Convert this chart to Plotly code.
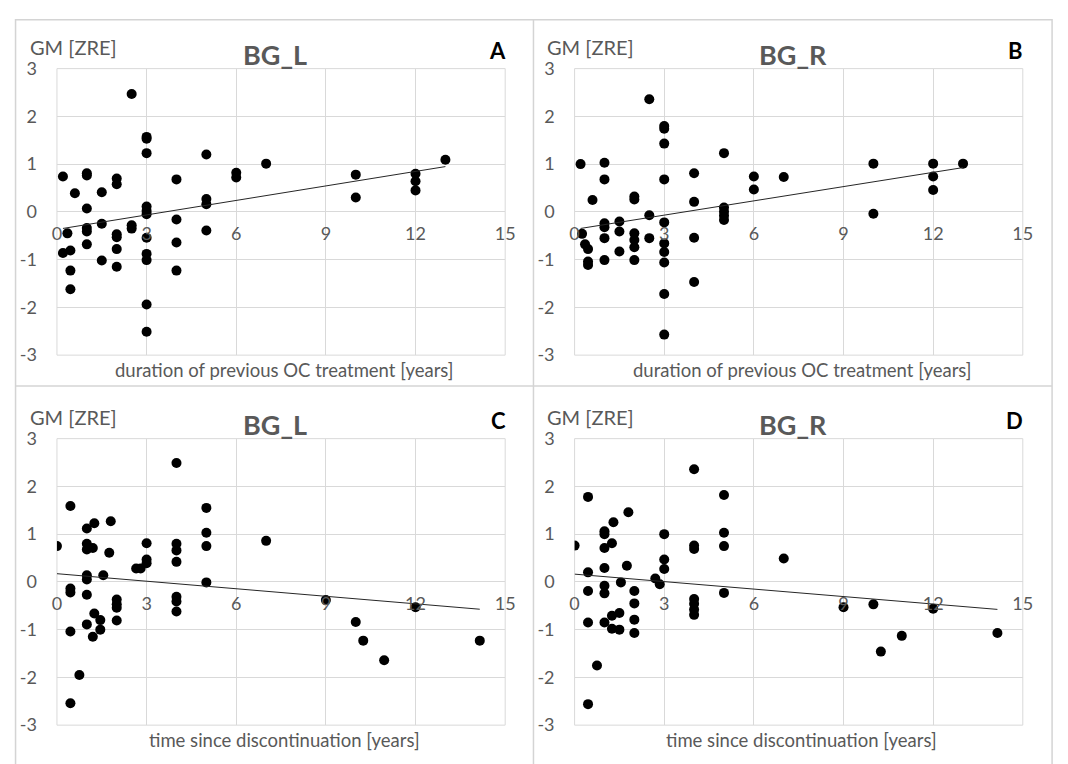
import numpy as np
import plotly.graph_objects as go

W, H = 1068, 764

# ---------------- data ----------------
# Panel A: BG_L vs duration of previous OC treatment
dur_A = [0.2, 0.2, 0.35, 0.45, 0.45, 0.45, 0.6, 1, 1, 1, 1, 1, 1, 1.5, 1.5, 1.5,
         2, 2, 2, 2, 2, 2, 2.5, 2.5, 2.5, 3, 3, 3, 3, 3, 3, 3, 3, 3, 3, 3,
         4, 4, 4, 4, 5, 5, 5, 5, 6, 6, 7, 10, 10, 12, 12, 12, 13]
gm_A = [0.74, -0.86, -0.45, -0.81, -1.23, -1.62, 0.39, 0.81, 0.76, 0.07, -0.34, -0.41, -0.68,
        0.41, -0.25, -1.02, 0.70, 0.58, -0.47, -0.53, -0.78, -1.15, 2.47, -0.28, -0.35,
        1.57, 1.53, 1.23, 0.11, 0.02, -0.05, -0.54, -0.88, -1.01, -1.94, -2.51,
        0.68, -0.16, -0.64, -1.23, 1.20, 0.27, 0.16, -0.39, 0.82, 0.72, 1.01,
        0.78, 0.30, 0.80, 0.64, 0.45, 1.09]

# Panel B: BG_R vs duration of previous OC treatment
dur_B = [0.2, 0.25, 0.35, 0.45, 0.45, 0.45, 0.6, 1, 1, 1, 1, 1, 1, 1.5, 1.5, 1.5,
         2, 2, 2, 2, 2, 2, 2.5, 2.5, 2.5, 3, 3, 3, 3, 3, 3, 3, 3, 3, 3,
         4, 4, 4, 4, 5, 5, 5, 5, 5, 6, 6, 7, 10, 10, 12, 12, 12, 13]
gm_B = [1.00, -0.46, -0.68, -0.78, -1.04, -1.11, 0.25, 1.03, 0.68, -0.24, -0.32, -0.55, -1.01,
        -0.20, -0.41, -0.83, 0.32, 0.26, -0.45, -0.59, -0.74, -1.01, 2.36, -0.07, -0.55,
        1.80, 1.74, 1.43, 0.68, -0.22, -0.66, -0.84, -1.06, -1.72, -2.57,
        0.81, 0.21, -0.54, -1.47, 1.23, 0.09, 0.00, -0.08, -0.17, 0.74, 0.47, 0.73,
        1.01, -0.04, 1.01, 0.74, 0.46, 1.01]

# Panel C: BG_L vs time since discontinuation
dis_C = [0, 0.45, 0.45, 0.45, 0.45, 0.45, 0.75, 1, 1, 1, 1.2, 1, 1, 1, 1, 1.25, 1.25,
         1.45, 1.45, 1.2, 1.55, 1.75, 1.8, 2, 2, 2, 2, 2.65, 2.8, 3, 3, 3,
         4, 4, 4, 4, 4, 4, 4, 5, 5, 5, 5, 7, 9, 10, 10.25, 10.95, 12, 14.15]
gm_C = [0.75, 1.59, -0.14, -0.22, -1.04, -2.54, -1.95, 1.12, 0.80, 0.68, 0.71, 0.14, 0.05, -0.27,
        -0.89, 1.23, -0.66, -0.80, -1.00, -1.15, 0.14, 0.61, 1.27, -0.37, -0.47, -0.54, -0.81,
        0.28, 0.28, 0.39, 0.47, 0.81, 2.49, 0.80, 0.66, 0.42, -0.31, -0.41, -0.62,
        1.55, 1.03, 0.75, -0.01, 0.86, -0.38, -0.84, -1.23, -1.64, -0.53, -1.23]

# Panel D: BG_R vs time since discontinuation
dis_D = [0, 0.45, 0.45, 0.45, 0.45, 0.45, 0.75, 1, 1, 1, 1.25, 1, 1, 1, 1, 1.3, 1.25,
         1.5, 1.25, 1.5, 1.55, 1.75, 1.8, 2, 2, 2, 2, 2.7, 2.85, 3, 3, 3,
         4, 4, 4, 4, 4, 4, 4, 5, 5, 5, 5, 7, 9, 10, 10.25, 10.95, 12, 14.15]
gm_D = [0.76, 1.78, 0.20, -0.19, -0.85, -2.56, -1.75, 1.06, 1.00, 0.71, 0.81, 0.29, -0.08, -0.24,
        -0.85, 1.25, -0.71, -0.65, -0.98, -1.00, -0.01, 0.34, 1.46, -0.19, -0.45, -0.79, -1.07,
        0.07, -0.05, 1.00, 0.47, 0.27, 2.36, 0.76, 0.69, -0.36, -0.46, -0.58, -0.69,
        1.82, 1.03, 0.75, -0.23, 0.49, -0.53, -0.47, -1.46, -1.13, -0.56, -1.07]

panel_titles = ["BG_L", "BG_R", "BG_L", "BG_R"]
panel_letters = ["A", "B", "C", "D"]
x_titles = ["duration of previous OC treatment [years]",
            "duration of previous OC treatment [years]",
            "time since discontinuation [years]",
            "time since discontinuation [years]"]
y_title = "GM [ZRE]"
x_ticks = [0, 3, 6, 9, 12, 15]
x_tick_labels = ["0", "3", "6", "9", "12", "15"]
y_ticks = [-3, -2, -1, 0, 1, 2, 3]
y_tick_labels = ["-3", "-2", "-1", "0", "1", "2", "3"]

# ---------------- figure ----------------
FONT = "Lato"
GRAY = "#595959"
GRID = "#d9d9d9"

xs_all = [dur_A, dur_B, dis_C, dis_D]
ys_all = [gm_A, gm_B, gm_C, gm_D]

fig = go.Figure()
layout = dict(
    width=W, height=H, margin=dict(l=0, r=0, t=0, b=0),
    paper_bgcolor="white", plot_bgcolor="white",
    font=dict(family=FONT, color=GRAY), showlegend=False,
)
shapes = []
annotations = []

for i in range(4):
    n = i + 1
    col, row = i % 2, i // 2
    ox, oy = col * 525, row * 381
    left, right = 52.7 + ox, 507.3 + ox
    top, bottom = 58.3 + oy, 353.3 + oy
    xd = [left / W, right / W]
    yd = [1 - bottom / H, 1 - top / H]
    xa = "x" if n == 1 else f"x{n}"
    ya = "y" if n == 1 else f"y{n}"
    xkey = "xaxis" if n == 1 else f"xaxis{n}"
    ykey = "yaxis" if n == 1 else f"yaxis{n}"

    x = np.array(xs_all[i], dtype=float)
    y = np.array(ys_all[i], dtype=float)
    fig.add_trace(go.Scatter(x=x, y=y, mode="markers", xaxis=xa, yaxis=ya,
                             marker=dict(color="black", size=10, line=dict(width=0)),
                             hoverinfo="skip"))
    slope, intercept = np.polyfit(x, y, 1)
    tx = np.array([x.min(), x.max()])
    fig.add_trace(go.Scatter(x=tx, y=slope * tx + intercept, mode="lines",
                             xaxis=xa, yaxis=ya,
                             line=dict(color="#262626", width=1), hoverinfo="skip"))

    layout[xkey] = dict(domain=xd, range=[0, 15], tickvals=x_ticks, ticktext=x_tick_labels,
                        showgrid=True, gridcolor=GRID, gridwidth=1, zeroline=False,
                        showline=False, ticks="", anchor="free",
                        position=(yd[0] + yd[1]) / 2, ticklabelstandoff=9,
                        tickfont=dict(family=FONT, size=18, color=GRAY))
    layout[ykey] = dict(domain=yd, range=[-3, 3], tickvals=y_ticks, ticktext=y_tick_labels,
                        showgrid=True, gridcolor=GRID, gridwidth=1, zeroline=False,
                        showline=False, ticks="", anchor=xa, ticklabelstandoff=19,
                        tickfont=dict(family=FONT, size=18, color=GRAY))
    # plot-area frame
    shapes.append(dict(type="rect", xref=f"{xa} domain", yref=f"{ya} domain",
                       x0=0, x1=1, y0=0, y1=1, line=dict(color=GRID, width=1),
                       layer="below"))
    # texts
    annotations.append(dict(text=y_title, x=(23 + ox) / W, y=1 - (36 + oy) / H,
                            xref="paper", yref="paper", xanchor="left", yanchor="middle",
                            showarrow=False, font=dict(family=FONT, size=20, color=GRAY)))
    annotations.append(dict(text=f"<b>{panel_titles[i]}</b>", x=(274 + ox) / W,
                            y=1 - (44 + oy) / H, xref="paper", yref="paper",
                            xanchor="center", yanchor="middle", showarrow=False,
                            font=dict(family=FONT, size=27, color=GRAY)))
    annotations.append(dict(text=f"<b>{panel_letters[i]}</b>", x=(510 + ox) / W,
                            y=1 - (40 + oy) / H, xref="paper", yref="paper",
                            xanchor="right", yanchor="middle", showarrow=False,
                            font=dict(family=FONT, size=22, color="black")))
    annotations.append(dict(text=x_titles[i], x=(283 + ox) / W,
                            y=1 - (369 + oy) / H, xref="paper", yref="paper",
                            xanchor="center", yanchor="middle", showarrow=False,
                            font=dict(family=FONT, size=18.5, color=GRAY)))

# outer panel frames
BORDER = "#d4d4d4"
shapes.append(dict(type="rect", xref="paper", yref="paper",
                   x0=10.7 / W, x1=1062 / W, y0=1 - 775 / H, y1=1 - 8 / H,
                   line=dict(color=BORDER, width=1.5)))
shapes.append(dict(type="line", xref="paper", yref="paper",
                   x0=536 / W, x1=536 / W, y0=1 - 775 / H, y1=1 - 8 / H,
                   line=dict(color=BORDER, width=1.5)))
shapes.append(dict(type="line", xref="paper", yref="paper",
                   x0=10.7 / W, x1=1062 / W, y0=1 - 385 / H, y1=1 - 385 / H,
                   line=dict(color=BORDER, width=1.5)))

layout["shapes"] = shapes
layout["annotations"] = annotations
fig.update_layout(**layout)

fig.write_html("out.html", config={"displayModeBar": False},
               post_script="document.body.style.margin='0';")
